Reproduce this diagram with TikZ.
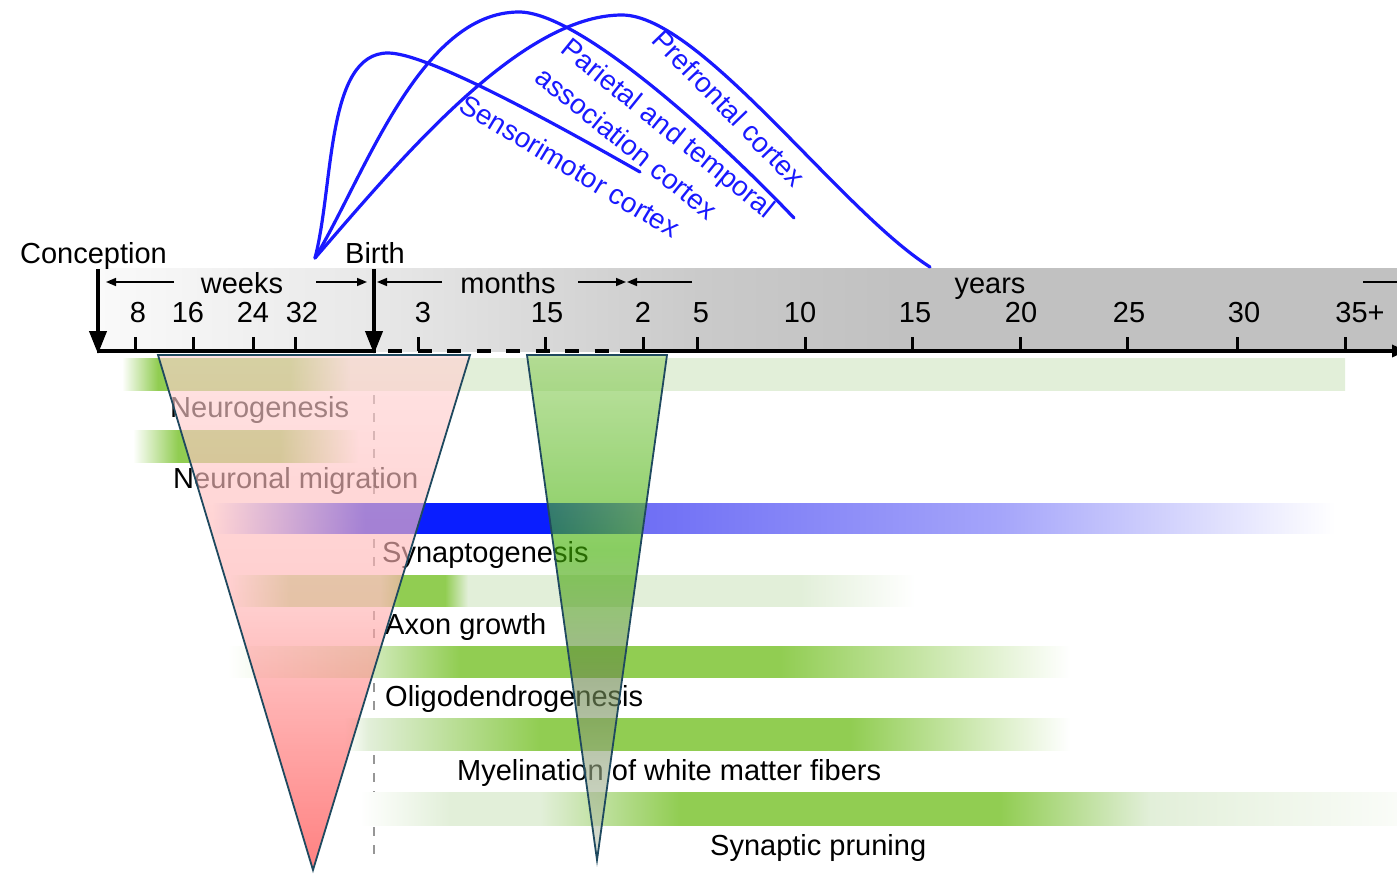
\documentclass[tikz,border=0pt]{standalone}
\usepackage{fontspec}
\setmainfont{Liberation Sans}
\usetikzlibrary{arrows.meta}
\definecolor{G}{RGB}{145,205,82}
\definecolor{L}{RGB}{226,239,217}
\definecolor{M}{RGB}{185,225,150}
\definecolor{O}{RGB}{205,232,180}
\definecolor{PW}{RGB}{250,252,248}
\definecolor{B}{RGB}{10,30,255}
\definecolor{BL}{RGB}{110,110,245}
\definecolor{BLL}{RGB}{165,165,250}
\definecolor{curveblue}{RGB}{25,25,255}
\definecolor{edgecol}{RGB}{31,73,95}
\definecolor{PKt}{RGB}{255,211,211}
\definecolor{PKm}{RGB}{255,176,176}
\definecolor{PKb}{RGB}{255,55,55}
\definecolor{GTt}{RGB}{150,208,105}
\definecolor{GTm}{RGB}{63,175,0}
\definecolor{GTl}{RGB}{110,137,80}
\definecolor{GTb}{RGB}{197,205,188}
\definecolor{bandA}{RGB}{250,250,250}
\definecolor{bandB}{RGB}{232,232,232}
\definecolor{bandC}{RGB}{202,202,202}
\definecolor{bandD}{RGB}{193,193,193}
\definecolor{birthgray}{RGB}{150,150,150}
\pgfdeclarehorizontalshading{bandshade}{100bp}{color(0bp)=(bandA); color(25bp)=(bandA); color(35.62bp)=(bandB); color(48.19bp)=(bandC); color(55.88bp)=(bandD); color(100bp)=(bandD)}
\pgfdeclarehorizontalshading{barone}{100bp}{color(0bp)=(white); color(25bp)=(white); color(26.47bp)=(G); color(31.87bp)=(G); color(34.32bp)=(L); color(100bp)=(L)}
\pgfdeclarehorizontalshading{bartwo}{100bp}{color(0bp)=(white); color(25bp)=(white); color(35bp)=(G); color(57.67bp)=(G); color(75bp)=(white); color(100bp)=(white)}
\pgfdeclarehorizontalshading{barthree}{100bp}{color(0bp)=(white); color(25bp)=(white); color(31.77bp)=(B); color(40.02bp)=(B); color(44.03bp)=(BL); color(60.07bp)=(BLL); color(75bp)=(white); color(100bp)=(white)}
\pgfdeclarehorizontalshading{barfour}{100bp}{color(0bp)=(white); color(25bp)=(white); color(29.38bp)=(M); color(35.95bp)=(M); color(37.41bp)=(G); color(40.69bp)=(G); color(42.37bp)=(L); color(66.61bp)=(L); color(75bp)=(white); color(100bp)=(white)}
\pgfdeclarehorizontalshading{barfive}{100bp}{color(0bp)=(white); color(25bp)=(white); color(33.91bp)=(O); color(38.78bp)=(G); color(57.78bp)=(G); color(75bp)=(white); color(100bp)=(white)}
\pgfdeclarehorizontalshading{barsix}{100bp}{color(0bp)=(white); color(25bp)=(white); color(26.59bp)=(L); color(38.45bp)=(G); color(59.83bp)=(G); color(75bp)=(white); color(100bp)=(white)}
\pgfdeclarehorizontalshading{barseven}{100bp}{color(0bp)=(white); color(25bp)=(white); color(29.34bp)=(L); color(33.68bp)=(L); color(40.43bp)=(G); color(55.86bp)=(G); color(63.09bp)=(L); color(75bp)=(PW); color(100bp)=(PW)}
\pgfdeclareverticalshading{pinktri}{100bp}{color(0bp)=(PKb); color(25bp)=(PKb); color(50.24bp)=(PKm); color(75bp)=(PKt); color(100bp)=(PKt)}
\pgfdeclareverticalshading{greentri}{100bp}{color(0bp)=(GTb); color(25bp)=(GTb); color(42.82bp)=(GTl); color(55.69bp)=(GTm); color(75bp)=(GTt); color(100bp)=(GTt)}
\begin{document}
\begin{tikzpicture}[x=1pt,y=-1pt,
  lbl/.style={font=\fontsize{29}{34}\selectfont, inner sep=0pt},
  rowlbl/.style={lbl, anchor=base west},
  num/.style={lbl, anchor=base},
  curvelbl/.style={font=\fontsize{28}{33}\selectfont, inner sep=0pt, text=curveblue},
  axisline/.style={line width=4pt},
  tickmark/.style={line width=3pt},
  bigarrow/.style={line width=4pt, -{Triangle[length=23pt,width=17pt]}},
  spanarrow/.style={line width=1.6pt, -{Triangle[length=10pt,width=8pt]}},
  cortex/.style={draw=curveblue, line width=3.2pt, line cap=round},
  triedge/.style={draw=edgecol, line width=1.8pt, line join=miter},
  birthline/.style={draw=birthgray, line width=2pt, dash pattern=on 9pt off 9pt},
]
\useasboundingbox (0,0) rectangle (1397,873);
% grey time band
\shade[shading=bandshade] (97,268) rectangle (1397,351);
% birth dashed line
\coordinate (bTop) at (374,395);
\coordinate (bBot) at (374,862);
\draw[birthline] (bTop) -- (bBot);
% bars
\shade[shading=barone]   (122,358) rectangle (1345,390);
\shade[shading=bartwo]   (133,430) rectangle (358,462);
\shade[shading=barthree] (213,503) rectangle (1335,533);
\shade[shading=barfour]  (230,575) rectangle (915,606);
\shade[shading=barfive]  (228,646) rectangle (1070,677);
\shade[shading=barsix]   (345,718) rectangle (1070,750);
\shade[shading=barseven] (360,792) rectangle (1397,825);
% row labels
\node[rowlbl] (neuro) at (170,417) {Neurogenesis};
\node[rowlbl] (migr) at (173,488) {Neuronal migration};
\node[rowlbl] (syn) at (382,562) {Synaptogenesis};
\node[rowlbl] (axon) at (385,634) {Axon growth};
\node[rowlbl] (oligo) at (385,706) {Oligodendrogenesis};
\node[rowlbl] (myel) at (457,780) {Myelination of white matter fibers};
\node[rowlbl] (prune) at (710,855) {Synaptic pruning};
% axis
\coordinate (ax0) at (97,351);
\coordinate (axB) at (376,351);
\coordinate (axD0) at (388,351);
\coordinate (axD1) at (620,351);
\coordinate (axEnd) at (1406,351);
\draw[axisline] (ax0) -- (axB);
\draw[axisline, dash pattern=on 14pt off 15.5pt] (axD0) -- (axD1);
\draw[axisline, -{Triangle[length=14pt,width=12pt]}] (axD1) -- (axEnd);
\foreach \x in {135,193,253,295,418,545,643,697,805,912,1020,1127,1237,1345}
  \draw[tickmark] (\x,337) -- (\x,351);
% numbers
\node[num] (w8) at (138,322) {8};
\node[num] (w16) at (188,322) {16};
\node[num] (w24) at (253,322) {24};
\node[num] (w32) at (302,322) {32};
\node[num] (m3) at (423,322) {3};
\node[num] (m15) at (547,322) {15};
\node[num] (y2) at (643,322) {2};
\node[num] (y5) at (701,322) {5};
\node[num] (y10) at (800,322) {10};
\node[num] (y15) at (915,322) {15};
\node[num] (y20) at (1021,322) {20};
\node[num] (y25) at (1129,322) {25};
\node[num] (y30) at (1244,322) {30};
\node[num] (y35) at (1360,322) {35+};
% span labels
\node[num] (weeks) at (242,293) {weeks};
\node[num] (months) at (508,293) {months};
\node[num] (years) at (990,293) {years};
\coordinate (wkA) at (174,282); \coordinate (wkAt) at (106,282);
\coordinate (wkB) at (316,282); \coordinate (wkBt) at (367,282);
\coordinate (moA) at (442,282); \coordinate (moAt) at (377,282);
\coordinate (moB) at (578,282); \coordinate (moBt) at (626,282);
\coordinate (yrA) at (692,282); \coordinate (yrAt) at (627,282);
\coordinate (yrB) at (1363,282); \coordinate (yrBt) at (1412,282);
\draw[spanarrow] (wkA) -- (wkAt);
\draw[spanarrow] (wkB) -- (wkBt);
\draw[spanarrow] (moA) -- (moAt);
\draw[spanarrow] (moB) -- (moBt);
\draw[spanarrow] (yrA) -- (yrAt);
\draw[spanarrow] (yrB) -- (yrBt);
% conception and birth
\node[lbl, anchor=base] (concep) at (93.5,263) {Conception};
\node[lbl, anchor=base] (birth) at (375,263) {Birth};
\coordinate (cTop) at (98,269); \coordinate (cTip) at (98,354);
\coordinate (bArTop) at (374,269); \coordinate (bArTip) at (374,354);
\draw[bigarrow] (cTop) -- (cTip);
\draw[bigarrow] (bArTop) -- (bArTip);
% cortex curves
\coordinate (S) at (315,258);
\coordinate (smPeak) at (388,53);
\coordinate (smEnd) at (640,172);
\coordinate (ptPeak) at (519,12);
\coordinate (ptEnd) at (794,218);
\coordinate (pfPeak) at (622,15);
\coordinate (pfEnd) at (930,267);
\draw[cortex] (S) .. controls (334,185) and (326,53) .. (smPeak) .. controls (425,53) and (540,115) .. (smEnd);
\draw[cortex] (S) .. controls (365,175) and (420,12) .. (ptPeak) .. controls (580,12) and (720,140) .. (ptEnd);
\draw[cortex] (S) .. controls (400,160) and (520,15) .. (pfPeak) .. controls (700,15) and (840,210) .. (pfEnd);
\node[curvelbl, rotate=-46] (pfl) at (729,108) {Prefrontal cortex};
\node[curvelbl, rotate=-39] (ptl1) at (667,130) {Parietal and temporal};
\node[curvelbl, rotate=-39] (ptl2) at (627,143) {association cortex};
\node[curvelbl, rotate=-31] (sml) at (570,166) {Sensorimotor cortex};
% triangles
\coordinate (pA) at (158,355); \coordinate (pB) at (470,355); \coordinate (pC) at (313,870);
\coordinate (gA) at (527,355); \coordinate (gB) at (667,355); \coordinate (gC) at (597,860);
\shade[shading=pinktri, fill opacity=0.63] (pA) -- (pB) -- (pC) -- cycle;
\shade[shading=greentri, fill opacity=0.62] (gA) -- (gB) -- (gC) -- cycle;
\draw[triedge] (pA) -- (pB) -- (pC) -- cycle;
\draw[triedge] (gA) -- (gB) -- (gC) -- cycle;
\end{tikzpicture}
\end{document}
